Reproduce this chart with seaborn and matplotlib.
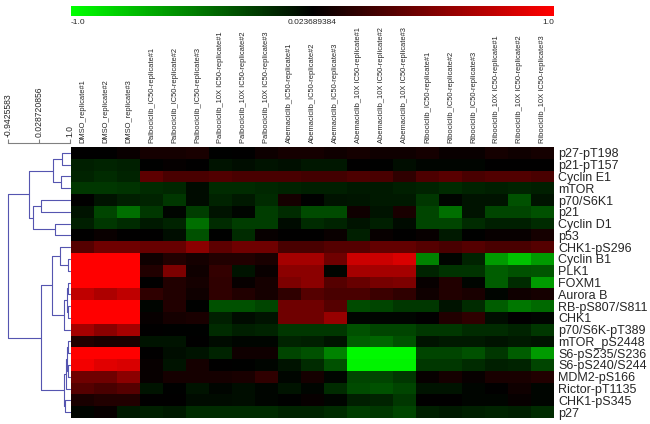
import numpy as np
import pandas as pd
import seaborn as sns
import matplotlib.pyplot as plt
from matplotlib.colors import LinearSegmentedColormap, TwoSlopeNorm

# row labels (order as in the clustered picture)
proteins = ['p27-pT198', 'p21-pT157', 'Cyclin E1', 'mTOR', 'p70/S6K1', 'p21', 'Cyclin D1',
            'p53', 'CHK1-pS296', 'Cyclin B1', 'PLK1', 'FOXM1', 'Aurora B', 'RB-pS807/S811',
            'CHK1', 'p70/S6K-pT389', 'mTOR_pS2448', 'S6-pS235/S236', 'S6-pS240/S244',
            'MDM2-pS166', 'Rictor-pT1135', 'CHK1-pS345', 'p27']

groups = ['DMSO_', 'Palbociclib_IC50-', 'Palbociclib_10X IC50-', 'Abemaciclib_IC50-',
          'Abemaciclib_10X IC50-', 'Ribociclib_IC50-', 'Ribociclib_10X IC50-']
samples = [g + 'replicate#' + str(i) for g in groups for i in (1, 2, 3)]

# values per treatment, 3 replicates each, one row per protein
dmso = [[0.03, 0.03, 0.06], [-0.10, -0.12, -0.10], [-0.12, -0.15, -0.12], [-0.20, -0.20, -0.18],
        [0.03, -0.05, -0.10], [-0.05, -0.25, -0.42], [-0.10, -0.20, -0.15], [0.03, 0.06, 0.03],
        [0.35, 0.45, 0.45], [1.0, 1.0, 1.0], [1.0, 1.0, 1.0], [1.0, 1.0, 1.0],
        [0.75, 0.68, 0.75], [1.0, 1.0, 1.0], [1.0, 1.0, 1.0], [0.65, 0.55, 0.65],
        [0.15, 0.12, 0.12], [1.0, 1.0, 1.0], [0.95, 0.88, 0.85], [0.45, 0.45, 0.55],
        [0.35, 0.30, 0.35], [0.12, 0.15, 0.15], [0.00, 0.05, -0.08]]
palbo_ic50 = [[0.10, 0.10, 0.12], [0.02, 0.04, 0.03], [0.38, 0.30, 0.30], [-0.15, -0.13, -0.02],
              [-0.12, -0.20, -0.02], [-0.20, 0.00, -0.22], [-0.08, -0.12, -0.42], [0.03, -0.03, -0.30],
              [0.42, 0.42, 0.55], [0.08, 0.15, 0.10], [0.15, 0.50, 0.08], [0.03, 0.15, 0.10],
              [0.20, 0.15, 0.08], [0.00, 0.15, 0.02], [0.05, 0.10, 0.12], [0.03, 0.02, 0.02],
              [-0.05, -0.05, 0.03], [0.03, -0.03, -0.05], [0.05, -0.05, 0.10], [0.05, 0.10, 0.10],
              [-0.05, 0.02, -0.05], [0.03, 0.03, -0.02], [-0.10, -0.08, -0.15]]
palbo_10x = [[0.02, 0.03, 0.07], [-0.05, -0.03, -0.05], [0.33, 0.30, 0.30], [-0.15, -0.15, -0.13],
             [-0.12, -0.08, -0.15], [-0.05, 0.00, -0.22], [-0.15, -0.22, -0.22], [0.02, -0.15, 0.05],
             [0.38, 0.45, 0.45], [0.15, 0.15, 0.12], [0.22, -0.05, 0.06], [0.20, 0.05, 0.10],
             [0.20, 0.15, 0.10], [-0.30, -0.30, -0.25], [-0.10, -0.02, -0.05], [-0.15, -0.10, -0.12],
             [-0.02, 0.00, 0.00], [-0.12, 0.08, 0.08], [0.03, 0.02, 0.00], [0.10, 0.12, 0.20],
             [0.00, -0.03, 0.00], [-0.02, -0.03, 0.00], [-0.15, -0.15, -0.15]]
abema_ic50 = [[0.10, 0.10, 0.08], [-0.04, -0.07, -0.07], [0.30, 0.28, 0.28], [-0.12, -0.10, -0.10],
              [0.10, 0.02, -0.05], [-0.15, -0.28, -0.28], [-0.02, -0.15, -0.12], [0.03, 0.03, 0.06],
              [0.30, 0.30, 0.35], [0.65, 0.65, 0.45], [0.55, 0.55, 0.00], [0.50, 0.55, 0.35],
              [0.20, 0.35, 0.30], [0.45, 0.45, 0.35], [0.45, 0.45, 0.60], [-0.20, -0.20, -0.20],
              [-0.12, -0.10, -0.05], [-0.25, -0.30, -0.50], [-0.05, -0.15, -0.30], [0.00, 0.10, 0.00],
              [-0.05, 0.00, -0.15], [0.02, 0.05, 0.00], [-0.12, -0.12, -0.15]]
abema_10x = [[0.10, 0.08, 0.08], [0.03, 0.02, -0.03], [0.32, 0.30, 0.20], [-0.08, -0.08, -0.10],
             [-0.06, -0.08, -0.08], [0.08, -0.05, 0.12], [-0.05, -0.10, -0.02], [-0.10, 0.05, 0.03],
             [0.35, 0.40, 0.40], [0.80, 0.80, 0.85], [0.65, 0.65, 0.65], [0.42, 0.48, 0.50],
             [0.30, 0.25, 0.20], [-0.28, -0.25, -0.20], [0.00, 0.00, 0.00], [-0.30, -0.25, -0.25],
             [-0.35, -0.38, -0.30], [-0.97, -0.97, -0.97], [-0.95, -0.95, -0.95], [-0.25, -0.25, -0.20],
             [-0.28, -0.30, -0.25], [-0.10, -0.12, -0.20], [-0.22, -0.20, -0.25]]
ribo_ic50 = [[0.10, 0.06, 0.06], [0.00, 0.00, 0.00], [0.32, 0.36, 0.30], [-0.12, -0.15, -0.12],
             [-0.20, 0.00, -0.05], [-0.25, -0.42, -0.05], [-0.25, -0.25, -0.15], [0.05, -0.08, 0.02],
             [0.35, 0.30, 0.35], [-0.50, 0.00, -0.12], [-0.12, -0.18, -0.18], [0.05, 0.15, 0.00],
             [0.08, 0.15, 0.12], [-0.20, -0.05, -0.15], [0.03, 0.15, 0.20], [-0.20, -0.20, -0.15],
             [-0.05, -0.08, -0.08], [-0.25, -0.25, -0.30], [-0.20, -0.20, -0.15], [0.05, 0.10, 0.05],
             [-0.05, -0.05, 0.00], [0.03, 0.03, 0.00], [-0.10, -0.08, -0.10]]
ribo_10x = [[0.10, 0.08, 0.10], [0.03, 0.03, 0.03], [0.33, 0.33, 0.30], [-0.10, -0.12, -0.10],
            [-0.05, -0.30, -0.05], [-0.25, -0.25, -0.30], [-0.10, -0.10, -0.15], [0.05, 0.05, 0.10],
            [0.30, 0.30, 0.35], [-0.60, -0.75, -0.60], [-0.35, -0.30, -0.32], [-0.35, -0.15, -0.60],
            [0.00, 0.08, 0.10], [-0.35, -0.45, -0.40], [-0.03, 0.03, 0.00], [-0.15, -0.12, -0.20],
            [-0.05, -0.08, -0.05], [-0.20, -0.35, -0.60], [-0.10, -0.12, -0.25], [0.12, 0.12, 0.15],
            [0.03, 0.08, 0.00], [0.00, 0.05, 0.00], [-0.12, -0.10, -0.15]]

# row dendrogram: (child a, child b, similarity); new cluster ids start at 23
merges = [(0, 1, 0.74), (2, 3, 0.72), (23, 24, 0.47), (4, 5, 0.08), (6, 7, 0.53),
          (26, 27, -0.16), (25, 28, -0.28), (9, 10, 0.94), (8, 30, 0.68), (11, 12, 0.95),
          (13, 14, 0.93), (32, 33, 0.90), (34, 15, 0.81), (31, 35, 0.45), (16, 17, 0.93),
          (18, 19, 0.94), (37, 38, 0.90), (39, 20, 0.87), (21, 22, 0.85), (40, 41, 0.81),
          (36, 42, 0.08), (29, 43, -0.9425583)]

cbar_ticks = [-1.0, 0.023689384, 1.0]
cbar_labels = ['-1.0', '0.023689384', '1.0']
dendro_ticks = [-0.9425583, 0.028720856, 1.0]
dendro_labels = ['-0.9425583', '0.028720856', '1.0']

data = pd.DataFrame(np.hstack([dmso, palbo_ic50, palbo_10x, abema_ic50, abema_10x,
                               ribo_ic50, ribo_10x]), index=proteins, columns=samples)

sns.set_style('white')
plt.rcParams['font.family'] = ['Liberation Sans', 'DejaVu Sans']

W, H = 650, 424
fig = plt.figure(figsize=(W / 100, H / 100), dpi=100)
ax = fig.add_axes([71 / W, 6 / H, 483 / W, 271 / H])
cax = fig.add_axes([71 / W, 408 / H, 483 / W, 10 / H])
dax = fig.add_axes([8 / W, 6 / H, 62 / W, 271 / H])

cmap = LinearSegmentedColormap.from_list('gkr', ['#00ff00', '#000000', '#ff0000'])
norm = TwoSlopeNorm(vmin=-1.0, vcenter=0.023689384, vmax=1.0)

sns.heatmap(data, ax=ax, cbar_ax=cax, cmap=cmap, norm=norm,
            xticklabels=samples, yticklabels=proteins,
            cbar_kws={'orientation': 'horizontal'})

ax.set_xlabel('')
ax.set_ylabel('')
ax.xaxis.tick_top()
ax.tick_params(axis='x', rotation=90, labelsize=5.4, length=0, pad=3)
ax.yaxis.tick_right()
ax.tick_params(axis='y', rotation=0, labelsize=9, length=0, pad=3)

# colour key
cax.set_xticks(cbar_ticks)
cax.set_xticklabels(cbar_labels)
cax.tick_params(axis='x', length=0, labelsize=6, pad=2)
lbls = cax.get_xticklabels()
lbls[0].set_ha('left')
lbls[-1].set_ha('right')

# row dendrogram
n = len(proteins)
pos = {i: (1.0, i + 0.5) for i in range(n)}
for k, (a, b, s) in enumerate(merges):
    xa, ya = pos[a]
    xb, yb = pos[b]
    dax.plot([xa, s, s, xb], [ya, ya, yb, yb], color='#5555b0', lw=0.8, clip_on=False)
    pos[n + k] = (s, (ya + yb) / 2)

dax.set_xlim(-0.9425583, 1.0)
dax.set_ylim(n, 0)
for side in ['left', 'right', 'bottom']:
    dax.spines[side].set_visible(False)
dax.spines['top'].set_position(('outward', 3))
dax.spines['top'].set_color('#808080')
dax.spines['top'].set_linewidth(0.8)
dax.xaxis.tick_top()
dax.set_xticks(dendro_ticks)
dax.set_xticklabels(dendro_labels)
dax.tick_params(axis='x', rotation=90, labelsize=6.2, length=3, width=0.8,
                color='#808080', pad=1)
dax.set_yticks([])

fig.savefig('out.png', dpi=100)
